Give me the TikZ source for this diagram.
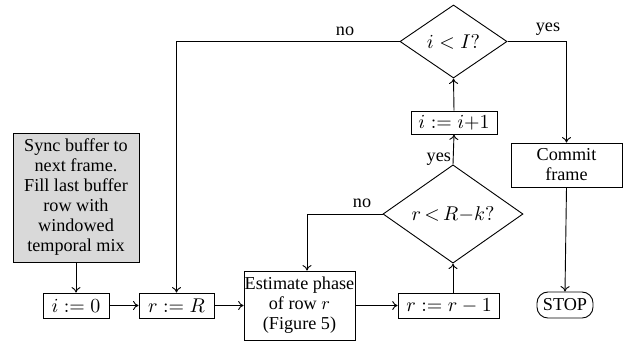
\documentclass[tikz,border=0pt]{standalone}
\usepackage{fontspec}
\setmainfont{Liberation Serif}
\usetikzlibrary{shapes.geometric,arrows.meta}
\begin{document}
\begin{tikzpicture}[x=0.55pt,y=-0.55pt,
  font=\fontsize{10}{11}\selectfont,
  every path/.style={line width=0.5pt},
  arr/.style={-{To[length=3pt,width=5pt]}},
  box/.style={draw,rectangle,inner sep=0pt,align=center},
  mbox/.style={box,font=\fontsize{11.3}{12}\selectfont},
  cond/.style={draw,diamond,inner sep=0pt,font=\fontsize{11.3}{12}\selectfont},
  lbl/.style={inner sep=1pt}]
\useasboundingbox (0,0) rectangle (625,342);
\node[box,fill=black!15,minimum width=69.3pt,minimum height=71pt] (buf) at (76,197.5)
  {Sync buffer to\\ next frame.\\ Fill last buffer\\ row with\\ windowed\\ temporal mix};
\node[mbox,minimum width=36.3pt,minimum height=13.75pt] (i0) at (76,305.5) {$i := 0$};
\node[mbox,minimum width=41.3pt,minimum height=13.75pt] (rR) at (176.5,305.5) {$r := R$};
\node[box,minimum width=61pt,minimum height=38pt] (est) at (299.5,305.5)
  {Estimate phase\\ of row $r$\\ (Figure~5)};
\node[mbox,minimum width=56pt,minimum height=13.75pt] (rr1) at (449,305.5) {$r := r - 1$};
\node[cond,minimum width=77pt,minimum height=50.6pt] (d1) at (453,214) {$r\,{<}\,R{-}k?$};
\node[mbox,minimum width=47.3pt,minimum height=12.7pt] (ii1) at (454,122.5) {$i := i{+}1$};
\node[cond,minimum width=58.9pt,minimum height=40.2pt] (d2) at (453.5,41.5) {$i < I?$};
\node[box,minimum width=61pt,minimum height=24.2pt] (com) at (566.5,165) {Commit\\ frame};
\node[draw,rounded corners=6pt,inner sep=0pt,minimum width=30.8pt,minimum height=14.3pt] (stop) at (565,305) {STOP};
\coordinate (c1) at (566.5,41.5);
\coordinate (c2) at (176.5,41.5);
\coordinate (c3) at (307,214);
\draw[arr] (buf.south) -- (i0.north);
\draw[arr] (i0) -- (rR);
\draw[arr] (rR) -- (est);
\draw[arr] (est) -- (rr1);
\draw[arr] (rr1.north -| d1.south) -- (d1.south);
\draw[arr] (d1.north) -- node[lbl,anchor=east,pos=0.17] {yes} (ii1.south);
\draw[arr] (ii1.north) -- (d2.south);
\draw[arr] (d2.east) -- (c1) -- (com.north);
\node[lbl] (yes2) at (548,29) {yes};
\draw[arr] (com.south) -- (stop.north);
\draw[arr] (d2.west) -- (c2) -- (rR.north);
\node[lbl] (no2) at (345,31) {no};
\draw[arr] (d1.west) -- (c3) -- (est.north -| c3);
\node[lbl] (no1) at (362,203) {no};
\end{tikzpicture}
\end{document}
